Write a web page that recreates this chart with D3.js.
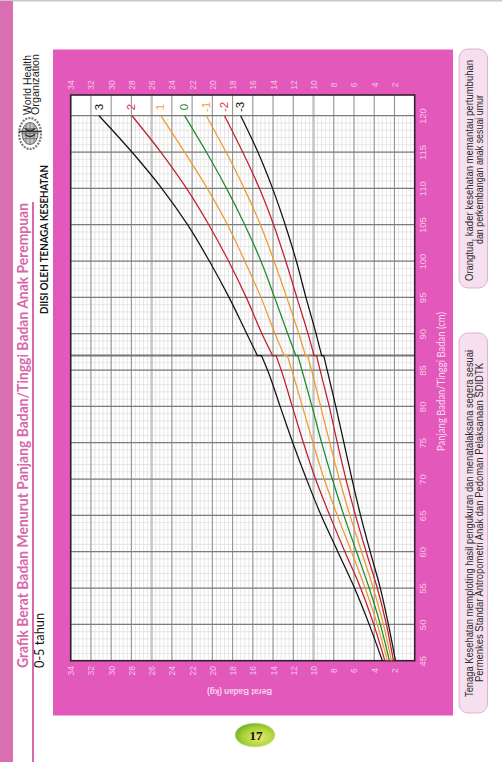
<!DOCTYPE html>
<html><head><meta charset="utf-8">
<script src="https://cdnjs.cloudflare.com/ajax/libs/d3/7.8.5/d3.min.js"></script>
<style>html,body{margin:0;padding:0;background:#fff;overflow:hidden}svg{display:block}</style>
</head><body><svg id="c" width="502" height="762"></svg>
<script>
// Panjang badan (cm), before the 87 cm switch, then tinggi badan (cm) after it
const lengths = [45,50,55,60,65,70,75,80,85,87];
const heights = [87,90,95,100,105,110,115,120];
const seriesNames = ["3","2","1","0","-1","-2","-3"];
const seriesColors = ["#111111","#c01f30","#ef9a2e","#1e8a2c","#ef9a2e","#c01f30","#111111"];
const labelColors = ["#111111","#e0324a","#f2a23a","#1e8a2c","#f2a23a","#e0324a","#111111"];
// weight (kg) per length
const lenP3  = [3.2,4.5,5.95,7.6,9.25,10.7,12.05,13.3,14.55,15.15];
const lenP2  = [2.95,4.05,5.35,6.9,8.4,9.8,11.0,12.1,13.2,13.7];
const lenP1  = [2.7,3.7,4.9,6.25,7.65,8.95,10.05,11.1,12.15,12.6];
const lenM0  = [2.5,3.4,4.5,5.75,7.0,8.15,9.2,10.15,11.15,11.55];
const lenN1  = [2.3,3.1,4.1,5.25,6.4,7.45,8.4,9.3,10.2,10.6];
const lenN2  = [2.1,2.8,3.7,4.8,5.85,6.8,7.65,8.45,9.35,9.7];
const lenN3  = [1.9,2.6,3.4,4.4,5.35,6.2,7.0,7.8,8.65,9.0];
// weight (kg) per height
const hgtP3  = [15.55,16.6,18.35,20.3,22.45,25.0,27.95,31.2];
const hgtP2  = [14.05,15.1,16.65,18.4,20.35,22.55,25.1,27.95];
const hgtP1  = [12.9,13.8,15.2,16.8,18.5,20.5,22.75,25.1];
const hgtM0  = [11.75,12.55,13.85,15.2,16.8,18.6,20.6,22.75];
const hgtN1  = [10.8,11.45,12.65,13.9,15.25,16.85,18.65,20.6];
const hgtN2  = [9.95,10.55,11.65,12.75,13.95,15.35,17.0,18.8];
const hgtN3  = [9.2,9.75,10.75,11.7,12.8,14.05,15.5,17.2];
const lenSeries = [lenP3,lenP2,lenP1,lenM0,lenN1,lenN2,lenN3];
const hgtSeries = [hgtP3,hgtP2,hgtP1,hgtM0,hgtN1,hgtN2,hgtN3];
const weightTicks = [2,4,6,8,10,12,14,16,18,20,22,24,26,28,30,32,34];
const heightTicks = [45,50,55,60,65,70,75,80,85,90,95,100,105,110,115,120];
const heavyWeights = [10,26];
const switchHeight = [87];
const title = "Grafik Berat Badan Menurut Panjang Badan/Tinggi Badan Anak Perempuan";

const svg = d3.select("#c");
const sans = "'Liberation Sans',Arial,sans-serif", lato = "Lato,sans-serif";
const x = d3.scaleLinear().domain([0,34]).range([414.7,70.7]);
const y = d3.scaleLinear().domain([45,120]).range([660.7,115.7]);
const top_ = 95, bot = 660.7, lef = 70.7, rig = 414.7;

function vtext(px,py,txt,o={}){
  const t = svg.append("text").attr("transform",`translate(${px},${py}) rotate(${o.rot===undefined?-90:o.rot})`)
    .attr("text-anchor",o.anchor||"start").attr("font-family",o.font||sans).attr("font-size",o.size||10)
    .attr("font-weight",o.weight||"normal").attr("fill",o.fill||"#222").text(txt);
  if(o.len) t.attr("textLength",o.len).attr("lengthAdjust","spacingAndGlyphs");
  return t;
}

// page furniture
svg.append("rect").attr("x",0).attr("y",0).attr("width",502).attr("height",1.5).attr("fill","#c9c9c9");
svg.append("rect").attr("x",0).attr("y",1).attr("width",13).attr("height",761).attr("fill","#d96fb0");
svg.append("rect").attr("x",32).attr("y",202).attr("width",2).attr("height",560).attr("fill","#d868ac");
svg.append("rect").attr("x",53).attr("y",49.5).attr("width",400).attr("height",666).attr("fill","#e358bb");

vtext(28,668,title,{font:lato,size:15.5,weight:700,fill:"#d868ac",len:465});
vtext(44,668,"0-5 tahun",{font:lato,size:13,fill:"#111",len:55});
vtext(48,314,"DIISI OLEH TENAGA KESEHATAN",{font:lato,size:10.5,weight:700,fill:"#151515",len:149});
vtext(30.5,115,"World Health",{size:10.5,fill:"#222",len:60});
vtext(38.5,115,"Organization",{size:10.5,fill:"#222",len:61});

// WHO emblem
const logo = svg.append("g").attr("transform","translate(30,133.5)").attr("fill","none").attr("stroke","#444");
logo.append("ellipse").attr("rx",11).attr("ry",15.5).attr("stroke-width",2.2).attr("stroke","#777").attr("stroke-dasharray","2 1.2");
logo.append("ellipse").attr("rx",8).attr("ry",11).attr("stroke-width",0.8).attr("fill","#c4c4c4");
logo.append("path").attr("d","M-8,0H8M-7,-5H7M-7,5H7M0,-11V11M-4,-10V10M4,-10V10").attr("stroke-width",0.7).attr("stroke","#666");
logo.append("path").attr("d","M-11,-2H11M-5,-5Q0,-1 5,-5M-5,1Q0,5 5,1").attr("stroke-width",1.4).attr("stroke","#333");

// note boxes
const boxes = svg.append("g");
[[49,239],[333,380]].forEach(b=>boxes.append("rect").attr("x",459).attr("y",b[0]).attr("width",28.5).attr("height",b[1]).attr("rx",9)
  .attr("fill","#f6dfee").attr("stroke","#d8a2c8").attr("stroke-width",0.8));
vtext(473,281,"Orangtua, kader kesehatan memantau pertumbuhan",{size:10.5,fill:"#2a2a2a",len:221});
vtext(483,244,"dan perkembangan anak sesuai umur",{size:10.5,fill:"#2a2a2a",len:149});
vtext(473,697,"Tenaga Kesehatan memploting hasil pengukuran dan menatalaksana segera sesuai",{size:10.5,fill:"#2a2a2a",len:347});
vtext(483,682,"Permenkes Standar Antropometri Anak dan Pedoman Pelaksanaan SDIDTK",{size:10.5,fill:"#2a2a2a",len:319});

// plot background
svg.append("rect").attr("x",lef).attr("y",top_).attr("width",rig-lef).attr("height",bot-top_).attr("fill","#fff");

// minor grid
const minor = svg.append("g").attr("stroke","#dcdcdc").attr("stroke-width",0.7);
minor.selectAll("line.v").data(d3.range(0.4,34,0.4)).join("line").attr("class","v")
  .attr("x1",d=>x(d)).attr("x2",d=>x(d)).attr("y1",y(120)).attr("y2",bot);
minor.selectAll("line.h").data(d3.range(46,120,1)).join("line").attr("class","h")
  .attr("y1",d=>y(d)).attr("y2",d=>y(d)).attr("x1",lef).attr("x2",rig);

// major grid
const vg = svg.append("g");
vg.selectAll("line").data(weightTicks).join("line")
  .attr("x1",d=>x(d)).attr("x2",d=>x(d)).attr("y1",top_).attr("y2",bot)
  .attr("stroke",d=>heavyWeights.includes(d)?"#c4c4c4":"#949494")
  .attr("stroke-width",d=>heavyWeights.includes(d)?2.4:1.1);
const hg = svg.append("g");
hg.selectAll("line").data(heightTicks.slice(1)).join("line")
  .attr("y1",d=>y(d)).attr("y2",d=>y(d)).attr("x1",lef).attr("x2",rig)
  .attr("stroke","#7c7c7c").attr("stroke-width",1.2);
hg.selectAll("line.sw").data(switchHeight).join("line").attr("class","sw")
  .attr("y1",d=>y(d)).attr("y2",d=>y(d)).attr("x1",lef).attr("x2",rig)
  .attr("stroke","#777").attr("stroke-width",1.8);

// axes
function styleAxis(g){
  g.select(".domain").remove(); g.selectAll(".tick line").remove();
  g.selectAll("text").attr("fill","#f7c6e6").attr("font-family",sans).attr("font-size",8.5);
}
const topAxis = svg.append("g").attr("transform",`translate(0,${top_-4})`)
  .call(d3.axisTop(x).tickValues(weightTicks).tickSize(0).tickPadding(0));
styleAxis(topAxis);
topAxis.selectAll("text").attr("transform","translate(0,-6) rotate(-90)").attr("text-anchor","middle").attr("dy","0.35em").attr("y",0).attr("x",0);
const botAxis = svg.append("g").attr("transform",`translate(0,${bot+4})`)
  .call(d3.axisBottom(x).tickValues(weightTicks).tickSize(0).tickPadding(0));
styleAxis(botAxis);
botAxis.selectAll("text").attr("transform","translate(0,6) rotate(-90)").attr("text-anchor","middle").attr("dy","0.35em").attr("y",0).attr("x",0);
const rightAxis = svg.append("g").attr("transform",`translate(${rig+8},0)`)
  .call(d3.axisRight(y).tickValues(heightTicks).tickSize(0).tickPadding(0));
styleAxis(rightAxis);
rightAxis.selectAll("text").attr("transform","rotate(-90)").attr("text-anchor","middle").attr("dy","0.35em").attr("y",0).attr("x",0).attr("font-size",9.5);

vtext(445,451,"Panjang Badan/Tinggi Badan (cm)",{font:lato,size:11,fill:"#f9d8ef",len:139});
vtext(272,689,"Berat Badan (kg)",{rot:180,size:8.5,weight:700,fill:"#f7d0ea",len:65});

// frame
svg.append("rect").attr("x",lef).attr("y",top_).attr("width",rig-lef).attr("height",bot-top_)
  .attr("fill","none").attr("stroke","#33202e").attr("stroke-width",1.6);

// curves
const line = d3.line().x(d=>x(d[1])).y(d=>y(d[0])).curve(d3.curveMonotoneY);
const curves = svg.append("g").attr("fill","none").attr("stroke-width",1.25);
seriesNames.forEach((n,i)=>{
  const a = line(lengths.map((h,k)=>[h,lenSeries[i][k]]));
  const b = line(heights.map((h,k)=>[h,hgtSeries[i][k]]));
  curves.append("path").attr("d",a+b.replace(/^M/,"L")).attr("stroke",seriesColors[i]);
  vtext(x(hgtSeries[i][heights.length-1])+3.5,y(121.2),n,{anchor:"middle",size:11.5,fill:labelColors[i]});
});

// page number
const defs = svg.append("defs");
const gr = defs.append("radialGradient").attr("id","pill").attr("cx","0.6").attr("cy","0.6").attr("r","0.7");
gr.append("stop").attr("offset","0").attr("stop-color","#e8ea70");
gr.append("stop").attr("offset","0.6").attr("stop-color","#a6d035");
gr.append("stop").attr("offset","1").attr("stop-color","#5fa52a");
svg.append("ellipse").attr("cx",255).attr("cy",735).attr("rx",20).attr("ry",12).attr("fill","url(#pill)").attr("stroke","#d9e8b0").attr("stroke-width",0.8);
svg.append("text").attr("x",256).attr("y",739.5).attr("text-anchor","middle").attr("font-family","'Liberation Serif',serif")
  .attr("font-size",13).attr("font-weight",700).attr("fill","#111").text("17");
</script></body></html>
